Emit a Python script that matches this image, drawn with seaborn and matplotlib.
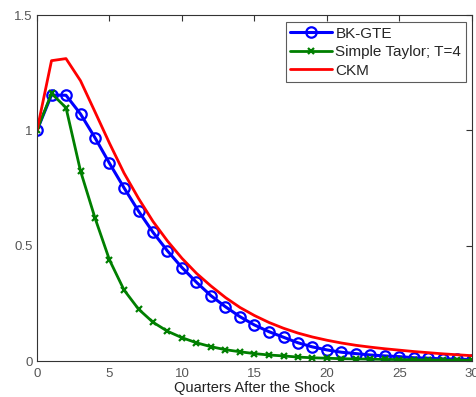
import matplotlib
matplotlib.use("Agg")
import matplotlib.pyplot as plt
import seaborn as sns
import pandas as pd
import numpy as np

quarters = list(range(31))
bk_gte = [1.0, 1.153, 1.152, 1.071, 0.968, 0.857, 0.751, 0.650, 0.558, 0.477,
          0.405, 0.341, 0.283, 0.235, 0.192, 0.156, 0.127, 0.103, 0.079, 0.061,
          0.048, 0.038, 0.032, 0.026, 0.022, 0.019, 0.014, 0.012, 0.009, 0.008, 0.006]
simple_taylor = [1.0, 1.160, 1.098, 0.824, 0.620, 0.438, 0.308, 0.225, 0.168, 0.129,
                 0.101, 0.079, 0.062, 0.049, 0.040, 0.032, 0.026, 0.022, 0.017, 0.014,
                 0.012, 0.010, 0.009, 0.008, 0.007, 0.006, 0.005, 0.005, 0.004, 0.004, 0.003]
ckm = [1.0, 1.302, 1.311, 1.215, 1.080, 0.944, 0.815, 0.705, 0.605, 0.520,
       0.445, 0.380, 0.325, 0.275, 0.232, 0.197, 0.167, 0.142, 0.121, 0.104,
       0.090, 0.078, 0.068, 0.060, 0.053, 0.047, 0.041, 0.036, 0.031, 0.027, 0.023]
labels = ["BK-GTE", "Simple Taylor; T=4", "CKM"]
xticks = [0, 5, 10, 15, 20, 25, 30]
yticks = [0, 0.5, 1, 1.5]
ytick_labels = ["0", "0.5", "1", "1.5"]

sns.set_style("white")
plt.rcParams['font.family'] = ['Liberation Sans', 'DejaVu Sans']

df = pd.DataFrame({"q": quarters, "bk": bk_gte, "st": simple_taylor, "ckm": ckm})

fig = plt.figure(figsize=(4.77, 3.97), dpi=100)
ax = fig.add_axes([37/477, 1 - 361/397, (472-37)/477, (361-15)/397])

sns.lineplot(data=df, x="q", y="bk", ax=ax, color="#0000ff", lw=2.2, marker="o",
             ms=7.5, mfc="none", mec="#0000ff", mew=1.6, label=labels[0])
sns.lineplot(data=df, x="q", y="st", ax=ax, color="#007f00", lw=2.0, marker="x",
             ms=5, mec="#007f00", mew=1.6, label=labels[1])
sns.lineplot(data=df, x="q", y="ckm", ax=ax, color="#ff0000", lw=2.0, label=labels[2])

ax.set_xlim(0, 30)
ax.set_ylim(0, 1.5)
ax.set_xticks(xticks)
ax.set_yticks(yticks)
ax.set_yticklabels(ytick_labels)
ax.tick_params(direction="in", top=True, right=True, length=4, width=0.8,
               colors="#333333", labelcolor="#555555", labelsize=9.5)
ax.tick_params(axis="x", pad=5)
ax.tick_params(axis="y", pad=3)
for s in ax.spines.values():
    s.set_color("#333333")
    s.set_linewidth(0.8)
ax.set_xlabel("Quarters After the Shock", fontsize=10.5, color="#222222", labelpad=1)
ax.set_ylabel("")

leg = ax.legend(loc="upper right", bbox_to_anchor=(0.986, 0.98), borderaxespad=0,
                fontsize=11, handlelength=2.75, handletextpad=0.2, labelspacing=0.3,
                fancybox=False, frameon=True, borderpad=0.3)
leg.get_frame().set_edgecolor("#333333")
leg.get_frame().set_linewidth(0.8)

fig.savefig("out.png", dpi=100)
